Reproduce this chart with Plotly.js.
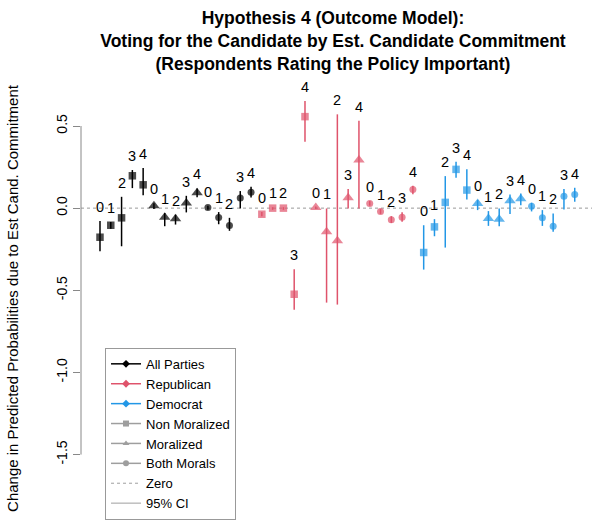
<!DOCTYPE html>
<html>
<head>
<meta charset="utf-8">
<script src="https://cdn.plot.ly/plotly-3.0.1.min.js"></script>
<style>
  html, body { margin: 0; padding: 0; background: #ffffff; }
  #chart { width: 592px; height: 523px; }
</style>
</head>
<body>
<div id="chart"></div>
<script>
// commitment levels, repeated within each moral type
const levels = ['0', '1', '2', '3', '4'];
const moralTypes = ['Non Moralized', 'Moralized', 'Both Morals'];
const moralSymbols = ['square', 'triangle-up', 'circle'];

// estimates and 95% CI, 15 per party (3 moral types x 5 levels)
const allEst = [-0.177, -0.104, -0.059, 0.197, 0.142, 0.014, -0.056, -0.065, 0.032, 0.093, 0.004, -0.057, -0.106, 0.061, 0.096];
const allLo  = [-0.262, -0.125, -0.232, 0.122, 0.079, -0.005, -0.110, -0.100, -0.026, 0.067, -0.010, -0.098, -0.138, -0.002, 0.065];
const allHi  = [-0.079, -0.085, 0.069, 0.232, 0.244, 0.030, -0.030, -0.040, 0.075, 0.120, 0.014, -0.024, -0.059, 0.104, 0.130];

const repEst = [-0.037, 0.000, 0.000, -0.524, 0.557, 0.004, -0.144, -0.199, 0.063, 0.293, 0.028, -0.020, -0.071, -0.055, 0.114];
const repLo  = [-0.050, -0.010, -0.010, -0.618, 0.404, -0.005, -0.575, -0.587, -0.002, -0.002, 0.015, -0.035, -0.090, -0.083, 0.085];
const repHi  = [-0.024, 0.006, 0.006, -0.372, 0.652, 0.010, -0.002, 0.571, 0.116, 0.532, 0.043, -0.006, -0.049, -0.025, 0.136];

const demEst = [-0.270, -0.114, 0.035, 0.236, 0.110, 0.028, -0.063, -0.067, 0.045, 0.057, 0.012, -0.059, -0.110, 0.073, 0.083];
const demLo  = [-0.374, -0.171, -0.240, 0.185, 0.053, -0.012, -0.108, -0.110, -0.035, 0.018, -0.020, -0.108, -0.144, -0.008, 0.039];
const demHi  = [-0.104, -0.067, 0.195, 0.282, 0.236, 0.049, -0.018, -0.002, 0.083, 0.089, 0.033, -0.012, -0.032, 0.116, 0.124];

const parties = ['All Parties', 'Republican', 'Democrat'];
const partyColors = ['#000000', '#DF536B', '#2297E6'];

const yTicks = [0.5, 0, -0.5, -1, -1.5];
const yTickText = ['0.5', '0.0', '-0.5', '-1.0', '-1.5'];

const FONT = '"Liberation Sans", Arial, sans-serif';
const GREY = '#9e9e9e';

const partyData = [
    { est: allEst, lo: allLo, hi: allHi },
    { est: repEst, lo: repLo, hi: repHi },
    { est: demEst, lo: demLo, hi: demHi }
];

const markerSize = { 'square': 7.5, 'triangle-up': 10, 'circle': 7 };

const traces = [];
const annotations = [];

partyData.forEach((d, p) => {
    const n = d.est.length;
    const xs = d.est.map((_, i) => p * n + i + 1);
    const symbols = d.est.map((_, i) => moralSymbols[Math.floor(i / levels.length)]);

    traces.push({
        x: xs,
        y: d.est,
        type: 'scatter',
        mode: 'markers',
        showlegend: false,
        hoverinfo: 'y',
        marker: { color: partyColors[p], symbol: symbols, size: symbols.map(s => markerSize[s]), line: { width: 0 } },
        error_y: {
            type: 'data',
            symmetric: false,
            array: d.hi.map((h, i) => h - d.est[i]),
            arrayminus: d.lo.map((l, i) => d.est[i] - l),
            color: partyColors[p],
            thickness: 1.5,
            width: 0
        }
    });

    // level labels above each CI
    xs.forEach((x, i) => {
        annotations.push({
            x: x,
            y: d.hi[i],
            xref: 'x',
            yref: 'y',
            text: levels[i % levels.length],
            showarrow: false,
            yanchor: 'middle',
            yshift: 14,
            font: { family: FONT, size: 14.5, color: '#000000' }
        });
    });
});

// legend-only traces
parties.forEach((name, p) => {
    traces.push({
        x: [null], y: [null], type: 'scatter', mode: 'lines+markers', name: name,
        line: { color: partyColors[p], width: 1.5 },
        marker: { color: partyColors[p], symbol: 'diamond', size: 6 }
    });
});
moralTypes.forEach((name, m) => {
    traces.push({
        x: [null], y: [null], type: 'scatter', mode: 'lines+markers', name: name,
        line: { color: GREY, width: 1.5 },
        marker: { color: GREY, symbol: moralSymbols[m], size: 6 }
    });
});
traces.push({
    x: [null], y: [null], type: 'scatter', mode: 'lines', name: 'Zero',
    line: { color: GREY, width: 1, dash: 'dot' }
});
traces.push({
    x: [null], y: [null], type: 'scatter', mode: 'lines', name: '95% CI',
    line: { color: GREY, width: 1 }
});

const layout = {
    width: 592,
    height: 523,
    margin: { t: 80, r: 0, b: 6, l: 81, autoexpand: false },
    paper_bgcolor: '#ffffff',
    plot_bgcolor: '#ffffff',
    font: { family: FONT, size: 14, color: '#000000' },
    title: {
        text: 'Hypothesis 4 (Outcome Model):<br>Voting for the Candidate by Est. Candidate Commitment<br>(Respondents Rating the Policy Important)',
        font: { family: FONT, size: 17.5, color: '#000000', weight: 'bold' },
        x: 0.5625,
        xanchor: 'center',
        yref: 'container',
        y: 0.954,
        yanchor: 'top'
    },
    xaxis: {
        range: [-0.76, 46.6],
        visible: false,
        showgrid: false,
        zeroline: false
    },
    yaxis: {
        range: [-1.88, 0.78],
        tickvals: yTicks,
        ticktext: yTickText,
        tickangle: -90,
        ticks: 'outside',
        ticklen: 7,
        tickcolor: '#888888',
        tickwidth: 1,
        tickfont: { family: FONT, size: 14, color: '#000000' },
        showgrid: false,
        zeroline: false,
        showline: false,
        title: {
            text: 'Change in Predicted Probabilities due to Est Cand. Commitment',
            font: { family: FONT, size: 15, color: '#000000' },
            standoff: 32
        }
    },
    shapes: [
        {
            type: 'line', xref: 'paper', yref: 'y',
            x0: 0, x1: 1, y0: 0, y1: 0,
            line: { color: '#9a9a9a', width: 1, dash: 'dot' },
            layer: 'below'
        },
        {
            type: 'line', xref: 'paper', yref: 'y',
            x0: 0, x1: 0, y0: yTicks[yTicks.length - 1], y1: yTicks[0],
            line: { color: '#888888', width: 1 }
        }
    ],
    annotations: annotations,
    showlegend: true,
    legend: {
        x: 0.047,
        y: 0.387,
        xanchor: 'left',
        yanchor: 'top',
        bgcolor: '#ffffff',
        bordercolor: '#999999',
        borderwidth: 1,
        font: { family: FONT, size: 13, color: '#000000' },
        tracegroupgap: 0
    }
};

Plotly.newPlot('chart', traces, layout, { displayModeBar: false, staticPlot: true });
</script>
</body>
</html>
